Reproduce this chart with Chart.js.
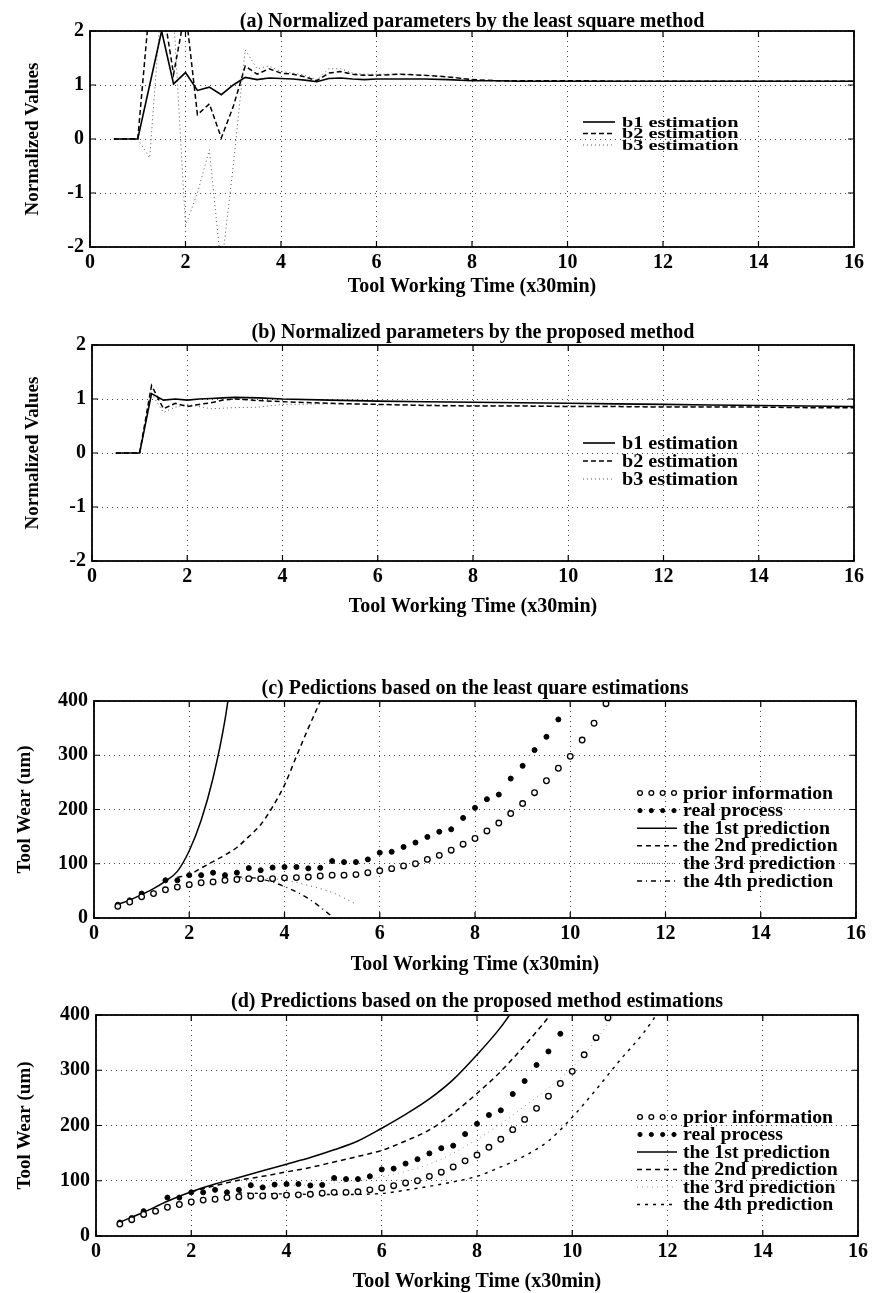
<!DOCTYPE html>
<html>
<head>
<meta charset="utf-8">
<script src="https://cdn.jsdelivr.net/npm/chart.js@4.4.1/dist/chart.umd.min.js"></script>
<style>
  body { margin: 0; background: #fff; width: 873px; height: 1293px; position: relative; overflow: hidden; }
  canvas { position: absolute; left: 0; }
</style>
</head>
<body>
<canvas id="chartA"></canvas>
<canvas id="chartB"></canvas>
<canvas id="chartC"></canvas>
<canvas id="chartD"></canvas>
<script>
// ---- data ----
var timeTicks = [0, 2, 4, 6, 8, 10, 12, 14, 16];
var paramTicks = [-2, -1, 0, 1, 2];
var wearTicks = [0, 100, 200, 300, 400];

// (a) least square estimations
var paramTimeA = [0.5, 0.75, 1, 1.25, 1.5, 1.75, 2, 2.25, 2.5, 2.75, 3, 3.25, 3.5, 3.75, 4, 4.25, 4.5, 4.75,
                  5, 5.25, 5.5, 5.75, 6, 6.5, 7, 7.5, 8, 8.5, 9, 10, 11, 12, 13, 14, 15, 16];
var b1LeastSquare = [0, 0, 0, 1.0, 2.0, 1.02, 1.23, 0.9, 0.96, 0.82, 1.0, 1.14, 1.1, 1.13, 1.12, 1.11, 1.09, 1.06,
                     1.12, 1.13, 1.11, 1.1, 1.11, 1.11, 1.11, 1.1, 1.08, 1.08, 1.07, 1.07, 1.07, 1.07, 1.07, 1.07, 1.07, 1.07];
var b2LeastSquare = [0, 0, 0, 2.5, 2.6, 1.2, 2.4, 0.45, 0.65, 0.02, 0.6, 1.35, 1.2, 1.3, 1.22, 1.2, 1.15, 1.08,
                     1.22, 1.25, 1.2, 1.18, 1.18, 1.2, 1.18, 1.15, 1.1, 1.08, 1.08, 1.08, 1.07, 1.07, 1.07, 1.07, 1.07, 1.07];
var b3LeastSquare = [0, 0, 0, -0.35, 2.6, 2.3, -1.6, -1.0, -0.2, -2.4, -0.5, 1.65, 1.3, 1.35, 1.25, 1.22, 1.18, 1.1,
                     1.3, 1.3, 1.22, 1.2, 1.2, 1.2, 1.18, 1.15, 1.1, 1.08, 1.08, 1.08, 1.07, 1.07, 1.07, 1.07, 1.07, 1.07];

// (b) proposed method estimations
var paramTimeB = [0.5, 0.75, 1, 1.25, 1.5, 1.75, 2, 2.25, 2.5, 2.75, 3, 3.5, 4, 5, 6, 7, 8, 9, 10, 11, 12, 13, 14, 15, 16];
var b1Proposed = [0, 0, 0, 1.1, 0.98, 1.0, 0.98, 1.0, 1.01, 1.02, 1.03, 1.02, 1.0, 0.98, 0.96, 0.95, 0.94, 0.93, 0.92, 0.91, 0.9, 0.89, 0.88, 0.87, 0.86];
var b2Proposed = [0, 0, 0, 1.25, 0.82, 0.92, 0.86, 0.9, 0.93, 0.98, 1.0, 0.97, 0.95, 0.92, 0.9, 0.88, 0.87, 0.87, 0.86, 0.86, 0.85, 0.85, 0.85, 0.84, 0.84];
var b3Proposed = [0, 0, 0, 1.1, 0.75, 0.85, 0.9, 0.86, 0.82, 0.83, 0.84, 0.85, 0.9, 0.91, 0.9, 0.89, 0.88, 0.88, 0.87, 0.87, 0.86, 0.86, 0.85, 0.85, 0.84];

// tool wear (um), shared by (c) and (d)
var wearTime = [0.5, 0.75, 1, 1.25, 1.5, 1.75, 2, 2.25, 2.5, 2.75, 3, 3.25, 3.5, 3.75, 4, 4.25, 4.5, 4.75, 5, 5.25, 5.5,
                5.75, 6, 6.25, 6.5, 6.75, 7, 7.25, 7.5, 7.75, 8, 8.25, 8.5, 8.75, 9, 9.25, 9.5, 9.75, 10, 10.25, 10.5, 10.75];
var priorWear = [21.5, 29.5, 39, 45, 52, 57, 61.5, 65, 66.5, 69.5, 71, 72.5, 72.5, 72.5, 74, 74.5, 75.5, 77.5, 79, 79, 80,
                 83.5, 87, 91, 96, 100, 108, 115.5, 125, 136, 146.5, 160.5, 175, 192.5, 211, 231, 253, 276, 298, 328, 359, 395];
var realWear = [24.5, 32.5, 45, 45, 69.5, 69.5, 79, 79, 83.5, 79, 83.5, 92, 88, 93, 94, 94, 91.5, 92.5, 105, 103, 103,
                108, 120.5, 122, 131, 139, 149.5, 159, 163.5, 184.5, 203, 219, 227.5, 257, 280.5, 309.5, 334, 366];

// (c) predictions from least square estimations
var pred1TimeLS = [0.5, 0.75, 1, 1.25, 1.5, 1.75, 2, 2.25, 2.5, 2.75, 3];
var pred1LS = [25, 33, 43, 54, 68, 86, 124, 180, 258, 365, 520];
var pred2TimeLS = [1.75, 2, 2.25, 2.5, 2.75, 3, 3.25, 3.5, 3.75, 4, 4.25, 4.5, 4.75, 5];
var pred2LS = [75, 80, 92, 104, 116, 130, 150, 172, 205, 245, 298, 350, 400, 460];
var pred3TimeLS = [3, 3.5, 4, 4.5, 5, 5.5];
var pred3LS = [72, 73, 70, 60, 47, 26];
var pred4TimeLS = [3, 3.5, 4, 4.5, 5];
var pred4LS = [76, 72, 58, 36, 3];

// (d) predictions from proposed method estimations
var pred1TimeP = [0.5, 1, 1.5, 2, 2.5, 3, 3.5, 4, 4.5, 5, 5.5, 6, 6.5, 7, 7.5, 8, 8.5, 9];
var pred1P = [25, 43, 63, 80, 94, 106, 118, 130, 142, 156, 172, 195, 220, 248, 283, 328, 378, 440];
var pred2TimeP = [2, 2.5, 3, 3.5, 4, 4.5, 5, 5.5, 6, 6.5, 7, 7.5, 8, 8.5, 9, 9.5, 10];
var pred2P = [80, 91, 101, 108, 116, 124, 134, 144, 155, 172, 192, 222, 258, 298, 345, 396, 455];
var pred3TimeP = [3, 3.5, 4, 4.5, 5, 5.5, 6, 6.5, 7, 7.5, 8, 8.5, 9, 9.5, 10, 10.5, 11];
var pred3P = [88, 90, 91, 93, 96, 100, 107, 117, 130, 150, 175, 203, 235, 268, 305, 355, 415];
var pred4TimeP = [3, 4, 5, 6, 6.5, 7, 7.5, 8, 8.5, 9, 9.5, 10, 10.5, 11, 11.5, 12];
var pred4P = [78, 76, 75, 77, 83, 90, 98, 108, 125, 145, 172, 215, 265, 318, 368, 430];

// ---- drawing ----
var FONT = "'Liberation Serif', 'Times New Roman', serif";
Chart.defaults.font.family = FONT;
Chart.defaults.font.weight = 'bold';
Chart.defaults.color = '#000';
Chart.defaults.animation = false;

function pts(xs, ys) {
    return ys.map(function (v, i) { return { x: xs[i], y: v }; });
}

// box round the plot with small inward tick marks on every side
var framePlugin = {
    id: 'frame',
    afterDatasetsDraw: function (chart) {
        var ctx = chart.ctx, a = chart.chartArea, sx = chart.scales.x, sy = chart.scales.y;
        ctx.save();
        ctx.strokeStyle = '#000';
        ctx.lineWidth = 1.2;
        ctx.beginPath();
        sx.ticks.forEach(function (t) {
            var px = sx.getPixelForValue(t.value);
            ctx.moveTo(px, a.bottom); ctx.lineTo(px, a.bottom - 6);
            ctx.moveTo(px, a.top); ctx.lineTo(px, a.top + 6);
        });
        sy.ticks.forEach(function (t) {
            var py = sy.getPixelForValue(t.value);
            ctx.moveTo(a.left, py); ctx.lineTo(a.left + 6, py);
            ctx.moveTo(a.right, py); ctx.lineTo(a.right - 6, py);
        });
        ctx.stroke();
        ctx.lineWidth = 1.8;
        ctx.strokeRect(a.left, a.top, a.right - a.left, a.bottom - a.top);
        ctx.restore();
    }
};

// legend written inside the plot, as in the original figure
var inLegendPlugin = {
    id: 'inLegend',
    afterDatasetsDraw: function (chart, args, opts) {
        var ctx = chart.ctx;
        var hs = opts.hscale || 1;
        ctx.save();
        ctx.font = 'bold ' + opts.size + 'px ' + FONT;
        ctx.textBaseline = 'middle';
        chart.data.datasets.forEach(function (ds, i) {
            var yy = opts.top + i * opts.step;
            var x0 = opts.left, x1 = opts.left + opts.sample;
            if (ds.showLine === false) {
                for (var k = 0; k < 4; k++) {
                    var px = x0 + 3 + k * (opts.sample - 6) / 3;
                    ctx.beginPath();
                    ctx.arc(px, yy, ds.pointRadius - 0.4, 0, Math.PI * 2);
                    ctx.fillStyle = ds.pointBackgroundColor;
                    ctx.fill();
                    ctx.lineWidth = ds.pointBorderWidth;
                    ctx.strokeStyle = '#000';
                    ctx.stroke();
                }
            } else {
                ctx.beginPath();
                ctx.setLineDash(ds.borderDash || []);
                ctx.strokeStyle = ds.borderColor;
                ctx.lineWidth = ds.borderWidth;
                ctx.moveTo(x0, yy);
                ctx.lineTo(x1, yy);
                ctx.stroke();
                ctx.setLineDash([]);
            }
            ctx.save();
            ctx.translate(opts.textX, yy + 1);
            ctx.scale(hs, 1);
            ctx.fillStyle = '#000';
            ctx.fillText(ds.label, 0, 0);
            ctx.restore();
        });
        ctx.restore();
    }
};

var HEAD = 36;   // room above the plot area for the panel title

function makePanel(id, p, datasets) {
    var canvas = document.getElementById(id);
    var plotH = p.bottom - p.top;
    var xAxisH = p.xTitleGap + 12;
    var canvasTop = p.top - HEAD;
    canvas.width = 873;
    canvas.height = HEAD + plotH + xAxisH;
    canvas.style.top = canvasTop + 'px';

    return new Chart(canvas.getContext('2d'), {
        type: 'line',
        data: { datasets: datasets },
        plugins: [framePlugin, inLegendPlugin],
        options: {
            responsive: false,
            devicePixelRatio: 1,
            layout: { padding: { left: 0, right: 873 - p.right, top: 0, bottom: 0 } },
            elements: { line: { tension: 0 } },
            scales: {
                x: {
                    type: 'linear', min: 0, max: 16,
                    afterBuildTicks: function (s) { s.ticks = timeTicks.map(function (v) { return { value: v }; }); },
                    afterFit: function (s) { s.height = xAxisH; },
                    grid: { color: '#444', lineWidth: 1, drawTicks: false },
                    border: { display: false, dash: [1, 4] },
                    ticks: { padding: 4, autoSkip: false, maxRotation: 0, font: { size: 20, weight: 'bold' } },
                    title: { display: true, text: 'Tool Working Time (x30min)', padding: 0, font: { size: 20, weight: 'bold' } }
                },
                y: {
                    type: 'linear', min: p.yTicks[0], max: p.yTicks[p.yTicks.length - 1],
                    afterBuildTicks: function (s) { s.ticks = p.yTicks.map(function (v) { return { value: v }; }); },
                    afterFit: function (s) { s.width = p.left; },
                    grid: { color: '#444', lineWidth: 1, drawTicks: false },
                    border: { display: false, dash: [1, 4] },
                    ticks: { padding: 6, autoSkip: false, font: { size: 20, weight: 'bold' } },
                    title: { display: true, text: p.yTitle, padding: { top: p.yTitleX - 11.4, bottom: 0 }, font: { size: 19, weight: 'bold' } }
                }
            },
            plugins: {
                legend: { display: false },
                tooltip: { enabled: false },
                title: {
                    display: true, text: p.title, fullSize: false,
                    font: { size: 20, weight: 'bold' }, color: '#000',
                    padding: { top: HEAD - 24 - p.titleGap, bottom: p.titleGap }
                },
                inLegend: {
                    size: p.legend.size, hscale: p.legend.hscale, left: p.legend.left, sample: p.legend.sample,
                    textX: p.legend.textX, top: p.legend.top - canvasTop, step: p.legend.step
                }
            }
        }
    });
}

function lineSet(label, xs, ys, dash, width, color, smooth) {
    return {
        label: label, data: pts(xs, ys), borderColor: color, borderWidth: width, borderDash: dash,
        pointRadius: 0, fill: false, clip: 0, cubicInterpolationMode: smooth ? 'monotone' : 'default'
    };
}

function pointSet(label, xs, ys, filled) {
    return {
        label: label, data: pts(xs, ys), showLine: false, borderColor: '#000',
        pointRadius: filled ? 2.5 : 2.8, pointBorderWidth: filled ? 1 : 1.3,
        pointBackgroundColor: filled ? '#000' : '#fff', clip: 4
    };
}

makePanel('chartA', {
    top: 31, bottom: 247, left: 90, right: 854, xTitleGap: 40, titleGap: -3,
    title: '(a) Normalized parameters by the least square method',
    yTitle: 'Normalized Values', yTitleX: 33, yTicks: paramTicks,
    legend: { size: 15, hscale: 1.35, left: 583, sample: 32, textX: 622, top: 122, step: 11.5 }
}, [
    lineSet('b1 estimation', paramTimeA, b1LeastSquare, [], 1.6, '#000', false),
    lineSet('b2 estimation', paramTimeA, b2LeastSquare, [5, 3], 1.5, '#000', false),
    lineSet('b3 estimation', paramTimeA, b3LeastSquare, [1, 3], 1, '#555', false)
]);

makePanel('chartB', {
    top: 345, bottom: 561, left: 92, right: 854, xTitleGap: 46, titleGap: 0,
    title: '(b) Normalized parameters by the proposed method',
    yTitle: 'Normalized Values', yTitleX: 33, yTicks: paramTicks,
    legend: { size: 18, hscale: 1.12, left: 583, sample: 32, textX: 622, top: 443, step: 18 }
}, [
    lineSet('b1 estimation', paramTimeB, b1Proposed, [], 1.6, '#000', false),
    lineSet('b2 estimation', paramTimeB, b2Proposed, [5, 3], 1.5, '#000', false),
    lineSet('b3 estimation', paramTimeB, b3Proposed, [1, 3], 1, '#555', false)
]);

makePanel('chartC', {
    top: 701, bottom: 918, left: 94, right: 856, xTitleGap: 47, titleGap: 0,
    title: '(c) Pedictions based on the least quare estimations',
    yTitle: 'Tool Wear (um)', yTitleX: 25, yTicks: wearTicks,
    legend: { size: 18, hscale: 1.1, left: 637, sample: 40, textX: 683, top: 793, step: 17.6 }
}, [
    pointSet('prior information', wearTime, priorWear, false),
    pointSet('real process', wearTime, realWear, true),
    lineSet('the 1st prediction', pred1TimeLS, pred1LS, [], 1.5, '#000', true),
    lineSet('the 2nd prediction', pred2TimeLS, pred2LS, [5, 4], 1.5, '#000', true),
    lineSet('the 3rd prediction', pred3TimeLS, pred3LS, [1, 4], 1, '#555', true),
    lineSet('the 4th prediction', pred4TimeLS, pred4LS, [5, 4, 1, 4], 1.4, '#000', true)
]);

makePanel('chartD', {
    top: 1015, bottom: 1236, left: 96, right: 858, xTitleGap: 46, titleGap: 1,
    title: '(d) Predictions based on the proposed method estimations',
    yTitle: 'Tool Wear (um)', yTitleX: 25, yTicks: wearTicks,
    legend: { size: 18, hscale: 1.1, left: 637, sample: 40, textX: 683, top: 1117, step: 17.5 }
}, [
    pointSet('prior information', wearTime, priorWear, false),
    pointSet('real process', wearTime, realWear, true),
    lineSet('the 1st prediction', pred1TimeP, pred1P, [], 1.5, '#000', true),
    lineSet('the 2nd prediction', pred2TimeP, pred2P, [5, 4], 1.5, '#000', true),
    lineSet('the 3rd prediction', pred3TimeP, pred3P, [1, 4], 1, '#999', true),
    lineSet('the 4th prediction', pred4TimeP, pred4P, [3, 5], 1.4, '#000', true)
]);
</script>
</body>
</html>
